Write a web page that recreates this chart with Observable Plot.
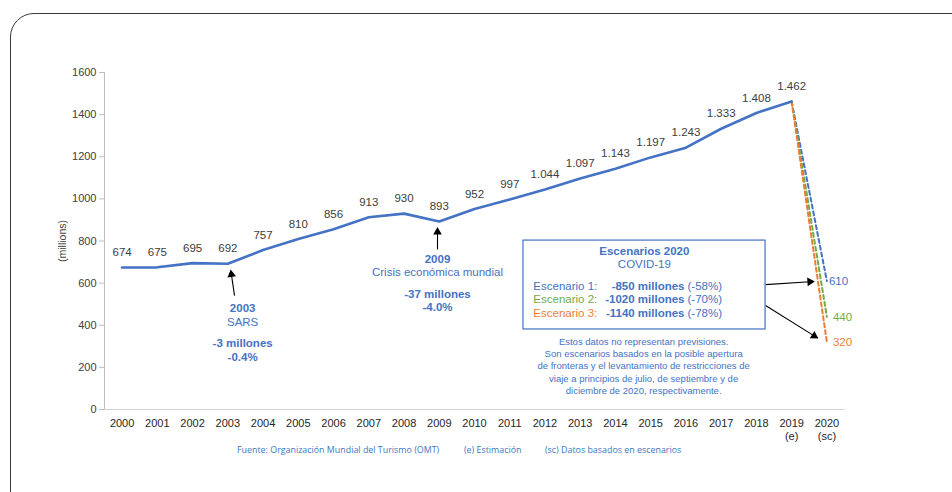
<!DOCTYPE html>
<html><head><meta charset="utf-8">
<script src="https://cdn.jsdelivr.net/npm/d3@7"></script>
<script src="https://cdn.jsdelivr.net/npm/@observablehq/plot@0.6"></script>
<style>
body{margin:0;background:#fff;}
#wrap{position:relative;width:952px;height:492px;overflow:hidden;font-family:"Liberation Sans",Arial,sans-serif;}
#frame{position:absolute;left:10px;top:13px;width:990px;height:520px;border:1.3px solid #3a3a3a;border-radius:24px;box-sizing:border-box;}
#chart{position:absolute;left:0;top:0;}
.foot{position:absolute;top:443px;font-family:"Open Sans",sans-serif;font-size:8.9px;color:#3B78C2;white-space:nowrap;}
</style></head>
<body>
<div id="wrap">
  <div id="frame"></div>
  <div id="chart"></div>
  <span class="foot" style="left:237px">Fuente: Organización Mundial del Turismo (OMT)</span>
  <span class="foot" style="left:464px">(e) Estimación</span>
  <span class="foot" style="left:545px">(sc) Datos basados en escenarios</span>
</div>
<script>
// ---- data ----
const years = [2000,2001,2002,2003,2004,2005,2006,2007,2008,2009,2010,2011,2012,2013,2014,2015,2016,2017,2018,2019];
const arrivals = [674,675,695,692,757,810,856,913,930,893,952,997,1044,1097,1143,1197,1243,1333,1408,1462];
const scenarioYear = 2020;
const scenarioNames = ["Escenario 1:","Escenario 2:","Escenario 3:"];
const scenario2020 = [610,440,320];
const scenarioLoss = ["-850 millones","-1020 millones","-1140 millones"];
const scenarioPct = ["(-58%)","(-70%)","(-78%)"];
const scenarioColors = ["#4472C4","#70AD47","#ED7D31"];
const yTicks = [0,200,400,600,800,1000,1200,1400,1600];
const xTicks = [2000,2001,2002,2003,2004,2005,2006,2007,2008,2009,2010,2011,2012,2013,2014,2015,2016,2017,2018,2019,2020];
const xTickSuffix = {2019:"(e)", 2020:"(sc)"};
const noteLines = ["Estos datos no representan previsiones.","Son escenarios basados en la posible apertura","de fronteras y el levantamiento de restricciones de","viaje a principios de julio, de septiembre y de","diciembre de 2020, respectivamente."];

// annotation anchors (data units)
const sarsText = [{x:2003.42,y:479,t:"2003",b:true},{x:2003.42,y:413,t:"SARS",b:false},{x:2003.42,y:313,t:"-3 millones",b:true},{x:2003.42,y:247,t:"-0.4%",b:true}];
const crisisText = [{x:2008.95,y:711,t:"2009",b:true},{x:2008.95,y:652,t:"Crisis económica mundial",b:false},{x:2008.95,y:549,t:"-37 millones",b:true},{x:2008.95,y:486,t:"-4.0%",b:true}];
const arrows = [
  {x1:2003.19,y1:541,x2:2003.08,y2:665},
  {x1:2008.95,y1:760,x2:2008.95,y2:866},
  {x1:2018.26,y1:593,x2:2019.66,y2:608},
  {x1:2018.26,y1:494,x2:2019.76,y2:337}
];
const box = {x1:2011.39,x2:2018.26,y1:380,y2:802};
const boxTitle = [{x:2014.82,y:750,t:"Escenarios 2020",b:true},{x:2014.82,y:688,t:"COVID-19",b:false}];
const rowY = [584,522,456];
const rowLabelX = 2011.67, rowNumX = 2015.96;
const note = {x:2014.8,y:209};

// ---- layout ----
const W = 952, H = 492, mL = 104, mR = 108, mT = 72, mB = 83;
const xDomain = [1999.5, 2020.5], yDomain = [0,1600];
const xs = Plot.scale({x:{type:"linear",domain:xDomain,range:[mL, W-mR]}});
const ys = Plot.scale({y:{type:"linear",domain:yDomain,range:[H-mB, mT]}});

const fmt = d3.formatLocale({decimal:",",thousands:".",grouping:[3],currency:["","€"]}).format(",");
const series = years.map((y,i)=>({year:y, v:arrivals[i]}));
const last = series[series.length-1];
const dashed = scenario2020.flatMap((v,i)=>[{s:i,year:last.year,v:last.v},{s:i,year:scenarioYear,v}]);

// arrow shafts and triangle heads
const headR = 3.2;
const tipBack = 2*Math.sqrt(Math.PI*headR*headR/(3*Math.sqrt(3)));
const heads = [], shafts = [];
for (const a of arrows) {
  const px1 = xs.apply(a.x1), py1 = ys.apply(a.y1), px2 = xs.apply(a.x2), py2 = ys.apply(a.y2);
  const dx = px2-px1, dy = py2-py1, L = Math.hypot(dx,dy);
  const ux = dx/L, uy = dy/L;
  const cx = px2 - ux*tipBack, cy = py2 - uy*tipBack;
  heads.push({x: xs.invert(cx), y: ys.invert(cy), r: Math.atan2(ux, -uy)*180/Math.PI});
  shafts.push({x1:a.x1,y1:a.y1,x2:xs.invert(cx),y2:ys.invert(cy)});
}

const blue = "#4472C4";
const marks = [
  Plot.ruleX([xDomain[0]], {y1:yDomain[0], y2:yDomain[1], stroke:"#BFBFBF", strokeWidth:1}),
  Plot.ruleY([0], {x1:xDomain[0], x2:xDomain[1], stroke:"#D0D0D0", strokeWidth:1}),
  Plot.axisY(yTicks, {tickSize:5, tickPadding:3, stroke:"#BFBFBF", fill:"#404040", fontSize:11, label:null, tickFormat:d=>String(d)}),
  Plot.axisX(xTicks, {tickSize:0, tickPadding:8, fill:"#262626", fontSize:11, lineHeight:1.2, label:null,
    tickFormat: d => xTickSuffix[d] ? d + "\n" + xTickSuffix[d] : String(d)}),
  Plot.text(["(millions)"], {x:1998.3, y:800, rotate:-90, fontSize:10.5, fill:"#404040"}),
  Plot.line(dashed, {x:"year", y:"v", z:"s", stroke:d=>scenarioColors[d.s], strokeWidth:2, strokeDasharray:"4,3"}),
  Plot.line(series, {x:"year", y:"v", stroke:blue, strokeWidth:2.6, strokeLinejoin:"round"}),
  Plot.text(series, {x:"year", y:"v", text:d=>fmt(d.v), dy:-15, fontSize:11.5, fill:"#404040"}),
  ...scenario2020.map((v,i)=>Plot.text([v], {x:scenarioYear, y:d=>d, text:d=>String(d), textAnchor:"start", dx:[2,6,6][i], fontSize:11.5, fill:scenarioColors[i]})),
  // annotations
  Plot.text(sarsText.concat(crisisText).filter(d=>d.b), {x:"x", y:"y", text:"t", fill:blue, fontWeight:"bold", fontSize:11.5}),
  Plot.text(sarsText.concat(crisisText).filter(d=>!d.b), {x:"x", y:"y", text:"t", fill:blue, fontSize:11.5}),
  Plot.link(shafts, {x1:"x1", y1:"y1", x2:"x2", y2:"y2", stroke:"#000", strokeWidth:1.1}),
  Plot.dot(heads, {x:"x", y:"y", rotate:"r", symbol:"triangle", r:headR, fill:"#000", stroke:null}),
  Plot.rect([box], {x1:"x1", x2:"x2", y1:"y1", y2:"y2", fill:"white", stroke:blue, strokeWidth:1.2}),
  Plot.text(boxTitle.filter(d=>d.b), {x:"x", y:"y", text:"t", fill:blue, fontWeight:"bold", fontSize:11.5}),
  Plot.text(boxTitle.filter(d=>!d.b), {x:"x", y:"y", text:"t", fill:blue, fontSize:11.5}),
  ...scenarioNames.map((n,i)=>Plot.text([n], {x:rowLabelX, y:rowY[i], text:d=>d, textAnchor:"start", fill:scenarioColors[i], fontSize:11.5})),
  Plot.text(scenarioLoss, {x:rowNumX, y:(d,i)=>rowY[i], text:d=>d, textAnchor:"end", fill:blue, fontWeight:"bold", fontSize:11.5}),
  Plot.text(scenarioPct, {x:rowNumX, y:(d,i)=>rowY[i], text:d=>d, textAnchor:"start", dx:3, fill:blue, fontSize:11.5}),
  Plot.text([noteLines.join("\n")], {x:note.x, y:note.y, text:d=>d, fill:blue, fontSize:9.5, lineHeight:1.3})
];

const chart = Plot.plot({
  width: W, height: H,
  marginLeft: mL, marginRight: mR, marginTop: mT, marginBottom: mB,
  x: {type:"linear", domain: xDomain, axis:null},
  y: {type:"linear", domain: yDomain, axis:null},
  style: {fontFamily: '"Liberation Sans", Arial, sans-serif', background: "transparent", overflow: "visible"},
  marks
});
document.getElementById("chart").appendChild(chart);
</script>
</body></html>
